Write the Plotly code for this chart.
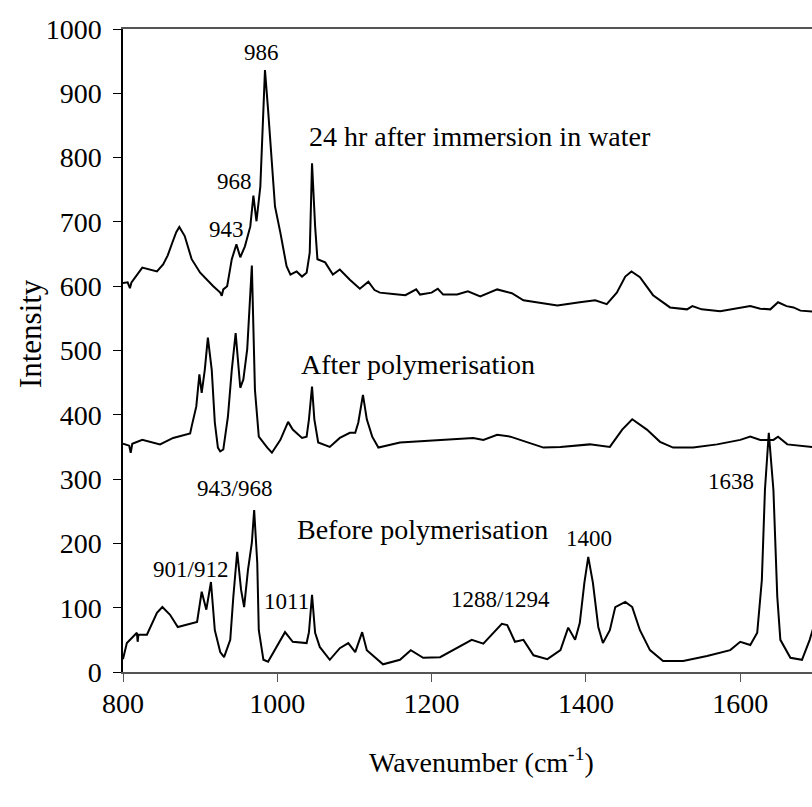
import plotly.graph_objects as go

# ---- data ----
wn_24h = [800, 806, 809, 811, 825, 844, 852, 858, 864, 869, 873, 880, 889, 900, 917, 926, 928, 930, 935, 941, 947, 952,
          958, 965, 969, 973, 978, 981, 984, 988, 993, 997, 1004, 1012, 1017, 1025, 1032, 1038, 1042, 1045, 1049,
          1052, 1062, 1072, 1081, 1094, 1107, 1118, 1126, 1133, 1150, 1166, 1180, 1185, 1200, 1208, 1215, 1233,
          1247, 1263, 1285, 1304, 1319, 1337, 1363, 1392, 1412, 1427, 1440, 1451, 1459, 1470, 1487, 1509, 1531,
          1538, 1550, 1574, 1600, 1613, 1626, 1639, 1649, 1660, 1669, 1678, 1700]
int_24h = [605, 606, 597, 606, 629, 623, 634, 648, 668, 684, 692, 678, 642, 621, 600, 590, 585, 595, 600, 642, 665, 645,
           662, 693, 741, 701, 755, 849, 936, 875, 787, 724, 683, 631, 618, 623, 615, 621, 652, 791, 693,
           642, 637, 618, 626, 610, 596, 607, 594, 590, 588, 586, 595, 587, 590, 596, 587, 587,
           592, 584, 595, 589, 578, 575, 570, 575, 578, 572, 590, 615, 623, 614, 586, 567, 564,
           569, 564, 561, 567, 569, 565, 564, 575, 569, 567, 562, 560]

wn_after = [800, 808, 810, 812, 825, 848, 865, 887, 889, 895, 899, 902, 906, 910, 915, 919, 923, 926, 930, 936,
            941, 946, 952, 956, 961, 964, 967, 971, 976, 987, 993, 1004, 1014, 1020, 1032, 1038, 1041, 1045, 1048,
            1053, 1068, 1081, 1094, 1101, 1105, 1111, 1116, 1123, 1131, 1159, 1211, 1254, 1267, 1285, 1302, 1324,
            1345, 1367, 1405, 1431, 1447, 1460, 1479, 1496, 1513, 1539, 1570, 1600, 1613, 1626, 1643, 1649, 1661,
            1700]
int_after = [355, 352, 341, 355, 361, 354, 364, 371, 382, 413, 463, 434, 470, 520, 470, 388, 349, 343, 346, 397,
             470, 527, 442, 455, 502, 560, 632, 439, 366, 349, 341, 361, 389, 377, 364, 366, 393, 444, 393,
             357, 350, 364, 372, 372, 388, 431, 393, 366, 349, 357, 361, 364, 361, 369, 366, 357,
             349, 350, 354, 350, 377, 393, 377, 358, 349, 349, 354, 361, 366, 361, 361, 366, 354,
             349]

wn_before = [800, 805, 818, 819, 820, 831, 844, 851, 861, 871, 896, 899, 902, 908, 914, 919, 926, 931, 939, 943,
             948, 953, 957, 962, 967, 970, 974, 976, 982, 988, 997, 1010, 1020, 1038, 1041, 1045, 1049, 1055, 1068,
             1081, 1092, 1101, 1110, 1116, 1137, 1159, 1173, 1189, 1211, 1228, 1252, 1267, 1280, 1291, 1298, 1308,
             1319, 1332, 1350, 1367, 1377, 1386, 1392, 1398, 1403, 1409, 1416, 1422, 1431, 1438, 1451, 1460, 1470,
             1483, 1500, 1526, 1557, 1587, 1600, 1613, 1622, 1628, 1632, 1637, 1643, 1648, 1652, 1665, 1680, 1690,
             1695, 1700]
int_before = [20, 45, 61, 47, 58, 58, 92, 101, 89, 70, 78, 101, 125, 97, 140, 65, 31, 23, 50, 117,
              187, 128, 101, 159, 201, 252, 170, 65, 19, 16, 34, 62, 47, 45, 62, 120, 61, 39, 19,
              37, 45, 31, 62, 34, 12, 19, 34, 22, 23, 34, 50, 44, 61, 75, 73, 47,
              50, 26, 20, 34, 69, 50, 76, 139, 179, 139, 70, 45, 65, 101, 109, 101, 65,
              34, 17, 17, 25, 34, 47, 42, 61, 143, 283, 372, 283, 117, 50, 22, 19, 50,
              70, 90]

x_ticks = [800, 1000, 1200, 1400, 1600]
y_ticks = list(range(0, 1001, 100))

# annotations: (text, wavenumber, intensity, size)
labels = [
    ("986", 980, 964, 23),
    ("968", 944, 763, 23),
    ("943", 934, 688, 23),
    ("24 hr after immersion in water", 1263, 833, 28),
    ("After polymerisation", 1182, 478, 28),
    ("943/968", 945, 285, 23),
    ("Before polymerisation", 1188, 221, 28),
    ("901/912", 888, 159, 23),
    ("1011", 1012, 109, 23),
    ("1288/1294", 1289, 112, 23),
    ("1400", 1404, 207, 23),
    ("1638", 1588, 297, 23),
]

FONT = "Liberation Serif, Times New Roman, serif"

fig = go.Figure()
for wx, iy in [(wn_24h, int_24h), (wn_after, int_after), (wn_before, int_before)]:
    fig.add_trace(go.Scatter(x=wx, y=iy, mode="lines",
                             line=dict(color="black", width=2), showlegend=False))

for text, wx, iy, sz in labels:
    fig.add_annotation(x=wx, y=iy, xref="x", yref="y", text=text, showarrow=False,
                       xanchor="center", yanchor="middle",
                       font=dict(family=FONT, size=sz, color="black"))

fig.add_annotation(x=0.521, y=-0.137, xref="paper", yref="paper",
                   xanchor="center", yanchor="middle",
                   text="Wavenumber (cm<sup>-1</sup>)", showarrow=False,
                   font=dict(family=FONT, size=28, color="black"))
fig.add_annotation(x=-0.135, y=0.527, xref="paper", yref="paper",
                   xanchor="center", yanchor="middle",
                   text="Intensity", textangle=-90, showarrow=False,
                   font=dict(family=FONT, size=31, color="black"))

fig.update_layout(
    width=812, height=807,
    margin=dict(l=123, r=0, t=29, b=135),
    plot_bgcolor="white", paper_bgcolor="white",
    font=dict(family=FONT, size=28, color="black"),
    xaxis=dict(range=[800, 1693], tickvals=x_ticks, ticktext=[str(v) for v in x_ticks],
               tickfont=dict(family=FONT, size=28, color="black"),
               showgrid=False, zeroline=False, showline=True, linecolor="#555555", linewidth=1.5,
               mirror=True, ticks="outside", ticklen=8, tickcolor="#555555",
               ticklabelstandoff=-2),
    yaxis=dict(range=[0, 1000], tickvals=y_ticks,
               tickfont=dict(family=FONT, size=28, color="black"),
               showgrid=False, zeroline=False, showline=True, linecolor="black", linewidth=1.5,
               ticks="outside", ticklen=8, tickcolor="black", ticklabelstandoff=6),
)

fig.write_html("out.html")
